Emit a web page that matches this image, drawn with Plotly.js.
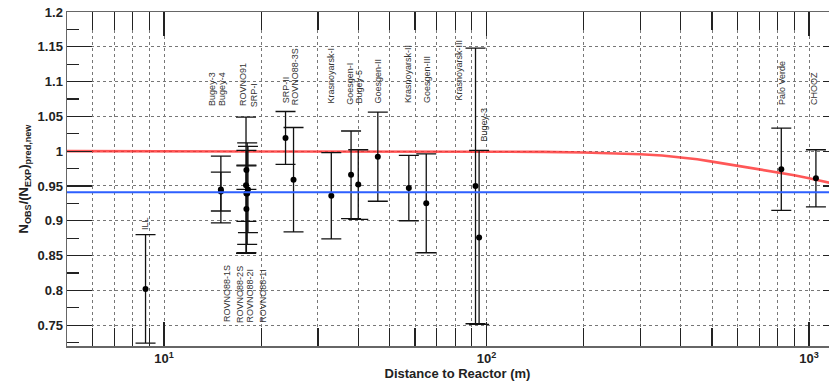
<!DOCTYPE html>
<html>
<head>
<meta charset="utf-8">
<script src="https://cdn.plot.ly/plotly-3.0.1.min.js"></script>
<style>
  html, body { margin: 0; padding: 0; background: #fff; overflow: hidden; }
  #chart { width: 848px; height: 384px; }
</style>
</head>
<body>
<div id="chart"></div>
<script>
// Short-baseline reactor experiments: observed / predicted antineutrino rate
const experiments = [
  "ILL", "Bugey-4", "Bugey-3", "ROVNO91", "ROVNO88-1I", "ROVNO88-2I",
  "ROVNO88-1S", "ROVNO88-2S", "SRP-I", "SRP-II", "ROVNO88-3S",
  "Krasnoyarsk-I", "Goesgen-I", "Bugey-5", "Goesgen-II", "Krasnoyarsk-II",
  "Goesgen-III", "Krasnoyarsk-III", "Bugey-3 (95 m)", "Palo Verde", "CHOOZ"
];
const distance = [8.76, 15.0, 15.0, 18.0, 18.0, 17.95, 18.1, 18.2, 18.0, 23.8, 25.2,
                  33.0, 38.0, 40.0, 46.0, 57.4, 65.0, 92.4, 94.8, 820, 1050];
const ratio    = [0.802, 0.942, 0.945, 0.973, 0.917, 0.951, 0.939, 0.945, 0.939, 1.019, 0.959,
                  0.936, 0.966, 0.952, 0.992, 0.947, 0.925, 0.950, 0.876, 0.974, 0.961];
const ratioErr = [0.078, 0.028, 0.048, 0.028, 0.063, 0.098, 0.073, 0.062, 0.040, 0.038, 0.075,
                  0.062, 0.063, 0.050, 0.064, 0.047, 0.071, 0.198, 0.125, 0.059, 0.041];

// Expected ratio with oscillation (red curve)
const oscDistance = [5, 10, 20, 40, 60, 100, 150, 200, 250, 300, 350, 400, 450, 500, 600, 700, 800, 900, 1000, 1150, 1320];
const oscRatio    = [1.0, 1.0, 1.0, 1.0, 1.0, 0.9995, 0.999, 0.998, 0.997, 0.9955, 0.9937, 0.9914, 0.9885,
                     0.985, 0.979, 0.974, 0.9698, 0.9655, 0.961, 0.955, 0.949];

// Mean observed ratio (blue line)
const meanRatio = 0.941;

// Rotated experiment labels: text, experiment it sits on, base level, side shift px
const labelText = ["ILL", "Bugey-3", "Bugey-4", "ROVNO91", "SRP-I", "SRP-II", "ROVNO88-3S",
  "ROVNO88-1S", "ROVNO88-2S", "ROVNO88-2I", "ROVNO88-1I",
  "Krasnoyarsk-I", "Goesgen-I", "Bugey-5", "Goesgen-II", "Krasnoyarsk-II", "Goesgen-III",
  "Krasnoyarsk-III", "Bugey-3", "Palo Verde", "CHOOZ"];
const labelAt = ["ILL", "Bugey-3", "Bugey-4", "ROVNO91", "SRP-I", "SRP-II", "ROVNO88-3S",
  "ROVNO88-1S", "ROVNO88-2S", "ROVNO88-2I", "ROVNO88-1I",
  "Krasnoyarsk-I", "Goesgen-I", "Bugey-5", "Goesgen-II", "Krasnoyarsk-II", "Goesgen-III",
  "Krasnoyarsk-III", "Bugey-3 (95 m)", "Palo Verde", "CHOOZ"];
const labelBase  = [0.884, 1.062, 1.062, 1.062, 1.061, 1.066, 1.063,
  0.751, 0.751, 0.751, 0.751,
  1.066, 1.064, 1.066, 1.066, 1.066, 1.066, 1.070, 1.011, 1.064, 1.064];
const labelShift = [0, -9, 1, -4, 7, 0, 1,
  -20, -8, 4, 17,
  0, -1, 1, 0, -1, 0, -17, 4, 0, -2];

const annotations = labelText.map((t, i) => {
  const k = experiments.indexOf(labelAt[i]);
  return {
    text: t, x: Math.log10(distance[k]), y: labelBase[i], xref: "x", yref: "y",
    xshift: labelShift[i], textangle: -90, xanchor: "center", yanchor: "bottom",
    showarrow: false, font: {family: "Liberation Sans, Arial, sans-serif", size: 9, color: "#333"}
  };
});

// minor log ticks 2..9 per decade
const minorVals = [];
for (let p = 0; p <= 3; p++) for (let d = 2; d <= 9; d++) minorVals.push(d * Math.pow(10, p));

const traces = [
  {
    x: oscDistance, y: oscRatio, mode: "lines", type: "scatter", hoverinfo: "skip",
    line: {color: "rgba(255,45,45,0.8)", width: 2.6}
  },
  {
    x: distance, y: ratio, mode: "markers", type: "scatter", text: experiments,
    marker: {color: "#000", size: 6, symbol: "circle"},
    error_y: {type: "data", array: ratioErr, visible: true, color: "#111", thickness: 1.3, width: 10}
  }
];

const boldFont = "Liberation Sans, Arial, Helvetica, sans-serif";
const layout = {
  width: 848, height: 384,
  margin: {l: 67, r: 0, t: 12, b: 38},
  paper_bgcolor: "#fff", plot_bgcolor: "#fff",
  showlegend: false,
  font: {family: boldFont, color: "#222"},
  xaxis: {
    type: "log", range: [Math.log10(5), Math.log10(5) + 2.4217],
    tickmode: "array", tickvals: [10, 100, 1000],
    ticktext: ["<b>10<sup>1</sup></b>", "<b>10<sup>2</sup></b>", "<b>10<sup>3</sup></b>"],
    tickfont: {size: 13, family: boldFont, color: "#222"},
    ticks: "inside", ticklen: 24, tickcolor: "#222", tickwidth: 1.2,
    showline: true, linecolor: "#666", linewidth: 1.5, mirror: "ticks",
    showgrid: true, gridcolor: "#777", griddash: "dot", gridwidth: 1,
    zeroline: false,
    minor: {tickmode: "array", tickvals: minorVals, ticks: "inside", ticklen: 18,
            tickcolor: "#222", tickwidth: 1.2, showgrid: true, gridcolor: "#777", griddash: "dot", gridwidth: 1},
    title: {text: "<b>Distance to Reactor (m)</b>", font: {size: 13, family: boldFont, color: "#222"}, standoff: 4}
  },
  yaxis: {
    range: [0.72, 1.2],
    tickmode: "array",
    tickvals: [0.75, 0.8, 0.85, 0.9, 0.95, 1.0, 1.05, 1.1, 1.15, 1.2],
    ticktext: ["<b>0.75</b>", "<b>0.8</b>", "<b>0.85</b>", "<b>0.9</b>", "<b>0.95</b>", "<b>1</b>",
               "<b>1.05</b>", "<b>1.1</b>", "<b>1.15</b>", "<b>1.2</b>"],
    tickfont: {size: 13, family: boldFont, color: "#222"},
    ticks: "inside", ticklen: 25, tickcolor: "#222", tickwidth: 1.2,
    showline: true, linecolor: "#666", linewidth: 1.5, mirror: "ticks",
    showgrid: true, gridcolor: "#777", griddash: "dot", gridwidth: 1,
    zeroline: false,
    minor: {dtick: 0.025, tick0: 0, ticks: "inside", ticklen: 12, tickcolor: "#222", tickwidth: 1.2, showgrid: false},
    title: {text: "<b>N<sub>OBS</sub>/(N<sub>EXP</sub>)<sub>pred,new</sub></b>",
            font: {size: 13, family: boldFont, color: "#222"}, standoff: 6}
  },
  shapes: [{
    type: "line", xref: "paper", x0: 0, x1: 1, yref: "y", y0: meanRatio, y1: meanRatio,
    line: {color: "rgb(45,95,255)", width: 2}, layer: "above"
  }],
  annotations: annotations
};

Plotly.newPlot("chart", traces, layout, {staticPlot: true, displayModeBar: false});
</script>
</body>
</html>
